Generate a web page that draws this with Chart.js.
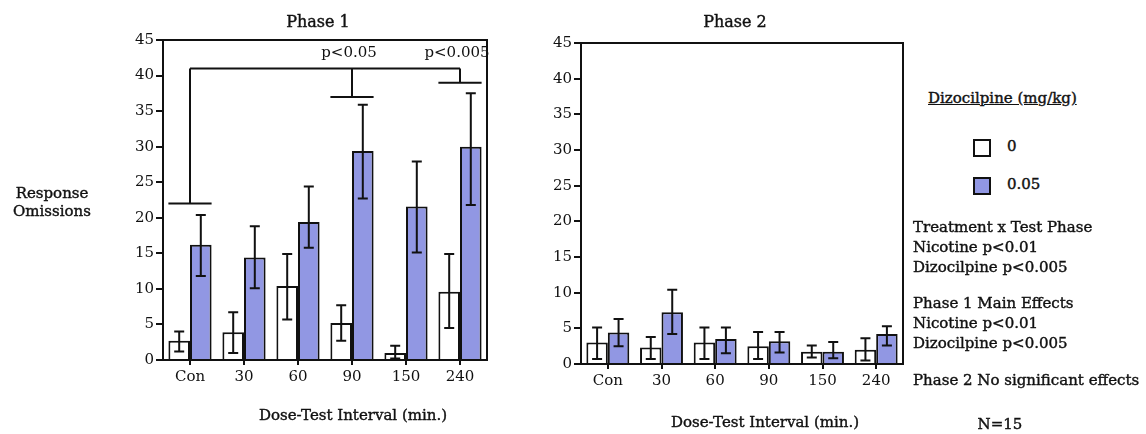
<!DOCTYPE html>
<html>
<head>
<meta charset="utf-8">
<script src="https://cdn.jsdelivr.net/npm/chart.js"></script>
<style>
  body { margin: 0; background: #fff; width: 1146px; height: 434px; overflow: hidden; position: relative;
         font-family: "DejaVu Serif", serif; color: #111; }
  .box { position: absolute; top: 0; height: 434px; }
  .t { position: absolute; font-size: 15px; line-height: 20px; white-space: nowrap; -webkit-text-stroke: 0.4px #111; }
  .c { transform: translateX(-50%); text-align: center; }
  .sq { position: absolute; width: 14px; height: 14px; border: 2px solid #111; }
</style>
</head>
<body>
<div class="box" style="left:0;width:500px"><canvas id="phase1"></canvas></div>
<div class="box" style="left:500px;width:420px"><canvas id="phase2"></canvas></div>

<div class="t c" style="left:318px;top:12px;font-size:16px">Phase 1</div>
<div class="t c" style="left:735px;top:12px;font-size:16px">Phase 2</div>
<div class="t c" style="left:52px;top:184px;line-height:18px">Response<br>Omissions</div>
<div class="t c" style="left:353px;top:405px">Dose-Test Interval (min.)</div>
<div class="t c" style="left:765px;top:412px">Dose-Test Interval (min.)</div>

<div class="t" style="left:928px;top:88px;text-decoration:underline">Dizocilpine (mg/kg)</div>
<div class="sq" style="left:973px;top:139px;background:#fff"></div>
<div class="t" style="left:1007px;top:136px">0</div>
<div class="sq" style="left:973px;top:177px;background:#9197e3"></div>
<div class="t" style="left:1007px;top:174px">0.05</div>
<div class="t" style="left:913px;top:217px">Treatment x Test Phase<br>Nicotine p&lt;0.01<br>Dizocilpine p&lt;0.005</div>
<div class="t" style="left:913px;top:293px">Phase 1 Main Effects<br>Nicotine p&lt;0.01<br>Dizocilpine p&lt;0.005</div>
<div class="t" style="left:913px;top:370px">Phase 2 No significant effects</div>
<div class="t c" style="left:1000px;top:414px">N=15</div>

<script>
// data
const categories = ['Con', '30', '60', '90', '150', '240'];

const p1Zero = [2.7, 3.9, 10.4, 5.2, 1.0, 9.6];
const p1ZeroHi = [4.0, 6.7, 14.9, 7.7, 2.0, 14.9];
const p1ZeroLo = [1.2, 1.0, 5.7, 2.7, 0.2, 4.5];
const p1Dizo = [16.2, 14.4, 19.4, 29.4, 21.6, 30.0];
const p1DizoHi = [20.4, 18.8, 24.4, 35.9, 27.9, 37.5];
const p1DizoLo = [11.8, 10.1, 15.8, 22.7, 15.1, 21.8];

const p2Zero = [3.0, 2.3, 3.0, 2.5, 1.7, 2.0];
const p2ZeroHi = [5.1, 3.8, 5.1, 4.5, 2.6, 3.6];
const p2ZeroLo = [0.7, 0.7, 0.7, 0.7, 0.9, 0.5];
const p2Dizo = [4.4, 7.25, 3.5, 3.2, 1.7, 4.2];
const p2DizoHi = [6.3, 10.4, 5.1, 4.5, 3.1, 5.3];
const p2DizoLo = [2.5, 4.2, 1.5, 1.6, 0.8, 2.6];

const yMax = 45;
const yStep = 5;

// significance bracket in phase 1
const sigTop = 41;
const sigDrops = [22, null, null, 37, null, 39];
const sigLabels = ['', '', '', 'p<0.05', '', 'p<0.005'];
const sigLabelY = 43.1;

const ink = '#111';
const blue = '#9197e3';
const font = { family: '"DejaVu Serif", serif', size: 15 };

const errorBars = {
  id: 'errorBars',
  afterDatasetsDraw(chart) {
    const ctx = chart.ctx, y = chart.scales.y;
    ctx.save();
    ctx.strokeStyle = ink;
    ctx.lineWidth = 2;
    chart.data.datasets.forEach((ds, di) => {
      chart.getDatasetMeta(di).data.forEach((bar, i) => {
        const x = bar.x, hi = y.getPixelForValue(ds.hi[i]), lo = y.getPixelForValue(ds.lo[i]);
        ctx.beginPath();
        ctx.moveTo(x, hi); ctx.lineTo(x, lo);
        ctx.moveTo(x - 5, hi); ctx.lineTo(x + 5, hi);
        ctx.moveTo(x - 5, lo); ctx.lineTo(x + 5, lo);
        ctx.stroke();
      });
    });
    ctx.restore();
  }
};

const frame = {
  id: 'frame',
  afterDraw(chart) {
    const a = chart.chartArea, ctx = chart.ctx;
    ctx.save();
    ctx.strokeStyle = ink;
    ctx.lineWidth = 2;
    ctx.beginPath();
    ctx.moveTo(a.left, a.top); ctx.lineTo(a.right, a.top); ctx.lineTo(a.right, a.bottom);
    ctx.stroke();
    ctx.restore();
  }
};

const brackets = {
  id: 'brackets',
  afterDatasetsDraw(chart) {
    const ctx = chart.ctx, x = chart.scales.x, y = chart.scales.y;
    const m0 = chart.getDatasetMeta(0).data, m1 = chart.getDatasetMeta(1).data;
    const drops = sigDrops.map((v, i) => v == null ? null : i).filter(i => i != null);
    const top = y.getPixelForValue(sigTop);
    ctx.save();
    ctx.strokeStyle = ink;
    ctx.fillStyle = ink;
    ctx.lineWidth = 2;
    ctx.beginPath();
    ctx.moveTo(x.getPixelForValue(drops[0]), top);
    ctx.lineTo(x.getPixelForValue(drops[drops.length - 1]), top);
    drops.forEach(i => {
      const cx = x.getPixelForValue(i), by = y.getPixelForValue(sigDrops[i]);
      ctx.moveTo(cx, top); ctx.lineTo(cx, by);
      ctx.moveTo(m0[i].x - m0[i].width / 2, by);
      ctx.lineTo(m1[i].x + m1[i].width / 2, by);
    });
    ctx.stroke();
    ctx.font = '15px "DejaVu Serif", serif';
    ctx.textAlign = 'center';
    ctx.textBaseline = 'middle';
    sigLabels.forEach((s, i) => {
      if (s) ctx.fillText(s, x.getPixelForValue(i) - 3, y.getPixelForValue(sigLabelY));
    });
    ctx.restore();
  }
};

function makeChart(id, zero, zeroHi, zeroLo, dizo, dizoHi, dizoLo, pad, yWidth, xHeight, extra) {
  return new Chart(document.getElementById(id), {
    type: 'bar',
    data: {
      labels: categories,
      datasets: [
        { label: '0', data: zero, hi: zeroHi, lo: zeroLo, backgroundColor: '#fff',
          borderColor: ink, borderWidth: 2 },
        { label: '0.05', data: dizo, hi: dizoHi, lo: dizoLo, backgroundColor: blue,
          borderColor: ink, borderWidth: 2 }
      ]
    },
    options: {
      responsive: true,
      maintainAspectRatio: false,
      animation: false,
      layout: { padding: pad },
      datasets: { bar: { categoryPercentage: 0.8, barPercentage: 1 } },
      plugins: { legend: { display: false }, tooltip: { enabled: false } },
      scales: {
        x: {
          afterFit(s) { s.height = xHeight; },
          grid: { drawOnChartArea: false, offset: false, tickLength: 5, color: ink, lineWidth: 2 },
          border: { color: ink, width: 2 },
          ticks: { color: ink, font: font, padding: 3, maxRotation: 0 }
        },
        y: {
          min: 0, max: yMax,
          afterFit(s) { s.width = yWidth; },
          grid: { drawOnChartArea: false, tickLength: 7, color: ink, lineWidth: 2 },
          border: { color: ink, width: 2 },
          ticks: { stepSize: yStep, color: ink, font: font, padding: 2 }
        }
      }
    },
    plugins: [errorBars, frame].concat(extra)
  });
}

makeChart('phase1', p1Zero, p1ZeroHi, p1ZeroLo, p1Dizo, p1DizoHi, p1DizoLo,
  { left: 0, top: 40, right: 13, bottom: 0 }, 163, 74, [brackets]);
makeChart('phase2', p2Zero, p2ZeroHi, p2ZeroLo, p2Dizo, p2DizoHi, p2DizoLo,
  { left: 0, top: 43, right: 17, bottom: 0 }, 81, 70, []);
</script>
</body>
</html>
